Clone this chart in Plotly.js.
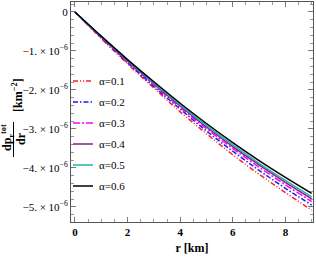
<!DOCTYPE html>
<html><head><meta charset="utf-8">
<script src="https://cdn.plot.ly/plotly-3.0.1.min.js"></script>
<style>html,body{margin:0;padding:0;background:#fff}#c{width:316px;height:262px}</style>
</head><body><div id="c"></div>
<script>
const r = [0,1,2,3,4,5,6,7,8,9];
const alphaLabels = ['α=0.1','α=0.2','α=0.3','α=0.4','α=0.5','α=0.6'];
// values in units of 1e-6 km^-2
const s01 = [0,-0.68,-1.33,-1.95,-2.56,-3.12,-3.66,-4.16,-4.63,-5.08];
const s02 = [0,-0.66,-1.30,-1.91,-2.49,-3.05,-3.57,-4.06,-4.52,-4.95];
const s03 = [0,-0.65,-1.27,-1.87,-2.45,-2.99,-3.50,-3.98,-4.43,-4.86];
const s04 = [0,-0.64,-1.26,-1.84,-2.41,-2.95,-3.45,-3.92,-4.37,-4.79];
const s05 = [0,-0.63,-1.24,-1.82,-2.38,-2.91,-3.41,-3.88,-4.32,-4.74];
const s06 = [0,-0.62,-1.22,-1.79,-2.34,-2.86,-3.35,-3.81,-4.24,-4.65];
const yTickVals = [0,-1,-2,-3,-4,-5];
const yTickText = ['0','−1. × 10<sup>−6</sup>','−2. × 10<sup>−6</sup>','−3. × 10<sup>−6</sup>','−4. × 10<sup>−6</sup>','−5. × 10<sup>−6</sup>'];
const xTickVals = [0,2,4,6,8];

const series = [s01,s02,s03,s04,s05,s06];
const colors = ['#ff2020','#1a1aff','#ff00ff','#8b1a8b','#20b2aa','#000000'];
const dashes = ['5px,2px,1px,2px,1px,2px','5px,2px,1.5px,2px','7px,2px,2px,2px','solid','solid','solid'];

const traces = series.map((s,i)=>({
  x: r, y: s.map(v=>v*1e-6), type:'scatter', mode:'lines', name: alphaLabels[i],
  line:{color:colors[i], width:1.5, dash:dashes[i], shape:'spline'}, showlegend:false
}));

const W=242, H=220, L=71, T=2;
const px = x => (x-L)/W, py = y => (T+H-y)/H;
const shapes = [], annotations = [];
alphaLabels.forEach((lab,i)=>{
  const yy = 81 + 21*i;
  shapes.push({type:'line', xref:'paper', yref:'paper', x0:px(73), x1:px(93), y0:py(yy), y1:py(yy),
    line:{color:colors[i], width:1.5, dash:dashes[i]}});
  annotations.push({xref:'paper', yref:'paper', x:px(97), y:py(yy), xanchor:'left', yanchor:'middle',
    text:lab, showarrow:false, font:{family:'Liberation Serif', size:11, color:'#000'}});
});
// y-axis title as a fraction
annotations.push({xref:'paper', yref:'paper', x:px(7), y:py(138), xanchor:'center', yanchor:'middle', textangle:-90,
  text:'<b>dp<sub>r</sub><sup>tot</sup></b>', showarrow:false, font:{family:'Liberation Serif', size:12, color:'#000'}});
annotations.push({xref:'paper', yref:'paper', x:px(21), y:py(139), xanchor:'center', yanchor:'middle', textangle:-90,
  text:'<b>dr</b>', showarrow:false, font:{family:'Liberation Serif', size:12, color:'#000'}});
annotations.push({xref:'paper', yref:'paper', x:px(17), y:py(95), xanchor:'center', yanchor:'middle', textangle:-90,
  text:'<b>[km<sup>−2</sup>]</b>', showarrow:false, font:{family:'Liberation Serif', size:12, color:'#000'}});
shapes.push({type:'line', xref:'paper', yref:'paper', x0:px(13.5), x1:px(13.5), y0:py(122), y1:py(157),
  line:{color:'#000', width:1}});

const axCommon = {showgrid:false, zeroline:false, showline:true, linecolor:'#555', linewidth:1, mirror:'ticks',
  ticks:'inside', ticklen:5, tickcolor:'#777', tickfont:{family:'Liberation Serif', size:11, color:'#000'}};

const layout = {
  width:316, height:262, margin:{l:L, r:316-L-W, t:T, b:262-T-H},
  paper_bgcolor:'#fff', plot_bgcolor:'#fff', showlegend:false,
  xaxis: Object.assign({}, axCommon, {range:[-0.15,9.05], tickmode:'array', tickvals:xTickVals,
    ticktext:xTickVals.map(v=>'<b>'+v+'</b>'),
    minor:{dtick:0.5, ticks:'inside', ticklen:3, tickcolor:'#999'},
    title:{text:'<b>r [km]</b>', font:{family:'Liberation Serif', size:12, color:'#000'}, standoff:6}}),
  yaxis: Object.assign({}, axCommon, {range:[-5.385e-6,0.256e-6], tickmode:'array',
    tickvals:yTickVals.map(v=>v*1e-6), ticktext:yTickText,
    minor:{dtick:0.2e-6, ticks:'inside', ticklen:3, tickcolor:'#999'}}),
  shapes: shapes, annotations: annotations
};
Plotly.newPlot('c', traces, layout, {staticPlot:true, displayModeBar:false});
</script></body></html>
